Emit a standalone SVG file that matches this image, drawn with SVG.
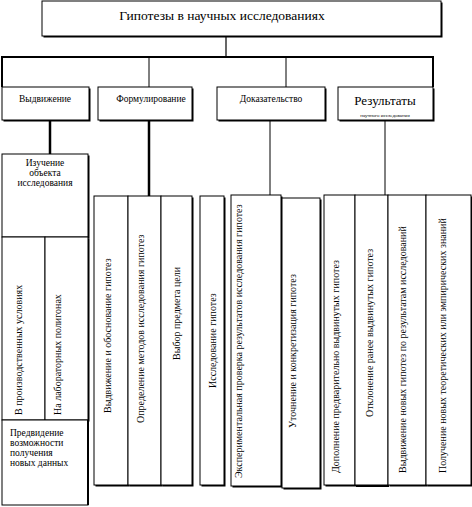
<svg xmlns="http://www.w3.org/2000/svg" width="472" height="507" viewBox="0 0 472 507">
<style>
.b{fill:#fff;stroke:#000;stroke-width:1}
.s{fill:#000}
.ln{stroke:#000;fill:none}
text{font-family:"Liberation Serif","DejaVu Serif",serif;fill:#000}
.t9{font-size:9.5px}
.l2{font-size:9.5px;text-anchor:middle}
.v{font-size:10px;dominant-baseline:central}
</style>
<g id="connectors">
<line class="ln" x1="226" y1="36" x2="226" y2="57" stroke-width="1.2"/>
<line class="ln" x1="1" y1="57" x2="434" y2="57" stroke-width="2"/>
<line class="ln" x1="2" y1="57" x2="2" y2="87" stroke-width="2"/>
<line class="ln" x1="149" y1="57" x2="149" y2="87" stroke-width="1"/>
<line class="ln" x1="286" y1="57" x2="286" y2="87" stroke-width="1"/>
<line class="ln" x1="433" y1="57" x2="433" y2="87" stroke-width="2"/>
<line class="ln" x1="50" y1="120" x2="50" y2="154" stroke-width="2.5"/>
<line class="ln" x1="149" y1="120" x2="149" y2="196" stroke-width="2.5"/>
<line class="ln" x1="270" y1="120" x2="270" y2="195" stroke-width="1"/>
<line class="ln" x1="385" y1="120" x2="385" y2="195" stroke-width="1"/>
</g>
<g id="root">
<rect class="s" x="43.5" y="2.5" width="399" height="35"/>
<rect class="b" x="42" y="1" width="399" height="35"/>
<text x="222" y="20" font-size="13.5" text-anchor="middle">Гипотезы в научных исследованиях</text>
</g>
<g id="vydvizhenie">
<rect class="s" x="3.5" y="88.5" width="87" height="33"/>
<rect class="b" x="2" y="87" width="87" height="33"/>
<text class="l2" x="45" y="102">Выдвижение</text>
</g>
<g id="formulirovanie">
<rect class="s" x="99.5" y="88.5" width="94" height="33"/>
<rect class="b" x="98" y="87" width="94" height="33"/>
<text class="l2" x="151" y="102">Формулирование</text>
</g>
<g id="dokazatelstvo">
<rect class="s" x="218.5" y="88.5" width="108" height="33"/>
<rect class="b" x="217" y="87" width="108" height="33"/>
<text class="l2" x="271" y="102">Доказательство</text>
</g>
<g id="rezultaty">
<rect class="s" x="339.5" y="88.5" width="95" height="33"/>
<rect class="b" x="338" y="87" width="95" height="33"/>
<text x="385" y="105" font-size="13" text-anchor="middle">Результаты</text>
<text x="385" y="117" font-size="5" text-anchor="middle">научного исследования</text>
</g>
<g id="izuchenie">
<rect class="s" x="3.5" y="155.5" width="86" height="83"/>
<rect class="b" x="2" y="154" width="86" height="83"/>
<text class="t9" x="45" y="165.5" text-anchor="middle">Изучение</text>
<text class="t9" x="45" y="175.5" text-anchor="middle">объекта</text>
<text class="t9" x="45" y="186" text-anchor="middle">исследования</text>
</g>
<g id="usloviya">
<rect class="s" x="3.5" y="238.5" width="43" height="183"/>
<rect class="b" x="2" y="237" width="43" height="183"/>
<text class="v" transform="translate(18,415) rotate(-90)">В производственных условиях</text>
</g>
<g id="poligon">
<rect class="s" x="46.5" y="238.5" width="43" height="183"/>
<rect class="b" x="45" y="237" width="43" height="183"/>
<text class="v" transform="translate(57,415) rotate(-90)">На лабораторных полигонах</text>
</g>
<g id="predvidenie">
<rect class="b" x="2" y="420" width="86" height="85"/>
<line class="ln" x1="88" y1="420" x2="88" y2="505" stroke-width="2"/>
<text class="t9" x="10" y="436">Предвидение</text>
<text class="t9" x="10" y="446">возможности</text>
<text class="t9" x="10" y="456">получения</text>
<text class="t9" x="10" y="466">новых данных</text>
</g>
<g id="f1">
<rect class="s" x="95.5" y="197.5" width="34" height="289"/>
<rect class="b" x="94" y="196" width="34" height="289"/>
<text class="v" transform="translate(107,413) rotate(-90)">Выдвижение и обоснование гипотез</text>
</g>
<g id="f2">
<rect class="s" x="129.5" y="197.5" width="33" height="289"/>
<rect class="b" x="128" y="196" width="33" height="289"/>
<text class="v" transform="translate(140,423) rotate(-90)">Определение методов исследования гипотез</text>
</g>
<g id="f3">
<rect class="s" x="162.5" y="197.5" width="31" height="289"/>
<rect class="b" x="161" y="196" width="31" height="289"/>
<text class="v" transform="translate(176,360) rotate(-90)">Выбор предмета цели</text>
</g>
<g id="d1">
<rect class="s" x="201.5" y="197.5" width="24" height="289"/>
<rect class="b" x="200" y="196" width="24" height="289"/>
<text class="v" transform="translate(212,388) rotate(-90)">Исследование гипотез</text>
</g>
<g id="d2">
<rect class="s" x="232.5" y="196.5" width="50" height="291"/>
<rect class="b" x="231" y="195" width="50" height="291"/>
<text class="v" transform="translate(238,478) rotate(-90)">Экспериментальная проверка результатов исследования гипотез</text>
</g>
<g id="d3">
<rect class="s" x="283.5" y="199.5" width="38" height="290"/>
<rect class="b" x="282" y="198" width="38" height="290"/>
<text class="v" transform="translate(292,428) rotate(-90)">Уточнение и конкретизация гипотез</text>
</g>
<g id="r1">
<rect class="s" x="325.5" y="196.5" width="31" height="290"/>
<rect class="b" x="324" y="195" width="31" height="290"/>
<text class="v" transform="translate(335,473) rotate(-90)">Дополнение предварительно выдвинутых гипотез</text>
</g>
<g id="r2">
<rect class="b" x="355" y="195" width="33" height="290"/>
<line class="ln" x1="356" y1="486" x2="389" y2="486" stroke-width="2"/>
<text class="v" transform="translate(369,417) rotate(-90)">Отклонение ранее выдвинутых гипотез</text>
</g>
<g id="r3">
<rect class="s" x="389.5" y="196.5" width="38" height="290"/>
<rect class="b" x="388" y="195" width="38" height="290"/>
<text class="v" transform="translate(402,473) rotate(-90)">Выдвижение новых гипотез по результатам исследований</text>
</g>
<g id="r4">
<rect class="s" x="427.5" y="196.5" width="44.5" height="290"/>
<rect class="b" x="426" y="195" width="45" height="290"/>
<text class="v" transform="translate(442,473) rotate(-90)">Получение новых теоретических или эмпирических знаний</text>
</g>
</svg>
